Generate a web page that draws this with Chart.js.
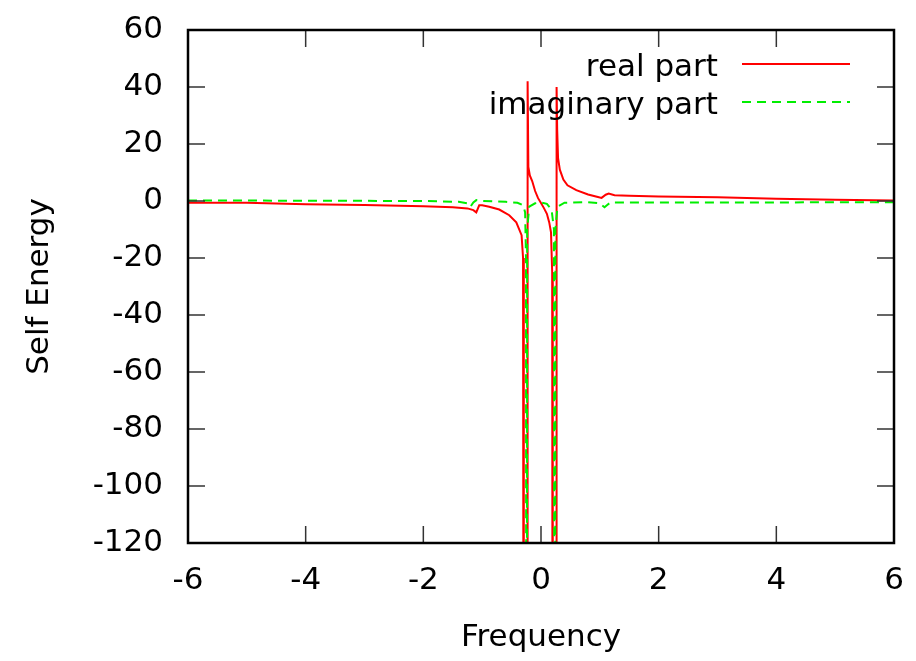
<!DOCTYPE html>
<html>
<head>
<meta charset="utf-8">
<script src="https://cdn.jsdelivr.net/npm/chart.js@4"></script>
<style>
  body { margin: 0; background: #fff; }
  canvas { display: block; }
</style>
</head>
<body>
<canvas id="myChart" width="916" height="661"></canvas>
<script>
// real part of the self energy (red, solid)
const realFreq = [-6, -5, -4, -3, -2, -1.5, -1.25, -1.15, -1.1, -1.05, -1.0, -0.88, -0.71, -0.54, -0.42,
    -0.33, -0.305, -0.295, -0.29, -0.235, -0.23, -0.225, -0.215, -0.19, -0.15, -0.1, -0.05, 0, 0.05, 0.1,
    0.14, 0.17, 0.19, 0.2, 0.26, 0.265, 0.275, 0.29, 0.32, 0.38, 0.45, 0.6, 0.8, 0.95, 1.03,
    1.1, 1.15, 1.25, 1.5, 2, 3, 4, 5, 6]
const realValues = [-0.6, -0.6, -1.1, -1.4, -1.8, -2.2, -2.6, -3.2, -4.0, -1.5, -1.5, -2, -3, -5, -7.5,
    -12, -20, -60, -300, -300, 10, 42, 12, 9, 7, 3.5, 1, -0.7, -2.5, -4.5,
    -7.5, -11, -25, -300, -300, 40, 25, 15, 11, 7.5, 5.5, 3.8, 2.3, 1.5, 1.1,
    2.2, 2.6, 2.0, 1.8, 1.6, 1.3, 0.8, 0.4, 0.2]

// imaginary part (green, dashed)
const imagFreq = [-6, -4, -2, -1.4, -1.25, -1.2, -1.15, -1.1, -1.0, -0.6, -0.4, -0.3, -0.27, -0.255, -0.245,
    -0.235, -0.2, -0.1, 0, 0.1, 0.18, 0.22, 0.235, 0.245, 0.28, 0.4, 0.8, 1.0, 1.08, 1.12,
    1.18, 1.3, 2, 4, 6]
const imagValues = [0.2, 0.1, 0, -0.3, -0.8, -2, -0.5, 0.3, 0, -0.3, -0.6, -1.5, -4, -20, -400,
    -10, -2, -0.8, -0.5, -1, -3, -10, -400, -10, -2, -0.6, -0.4, -0.8, -2.2, -1.5,
    -0.5, -0.5, -0.5, -0.5, -0.4]

const seriesLabels = ['real part', 'imaginary part']
const xTicks = [-6, -4, -2, 0, 2, 4, 6]
const yTicks = [-120, -100, -80, -60, -40, -20, 0, 20, 40, 60]

const FONT = {family: '"DejaVu Sans", sans-serif', size: 31}

function toPoints(xs, ys) {
    let pts = []
    for (let i = 0; i < xs.length; i++) {
        pts.push({x: xs[i], y: ys[i]})
    }
    return pts
}

// no automatic room for overhanging tick labels, the box is placed by layout padding
function fixBox(s, w, h) {
    if (w) s.width = w
    if (h) s.height = h
    s.paddingTop = 0
    s.paddingBottom = 0
    s.paddingLeft = 0
    s.paddingRight = 0
}

// gnuplot style box with inward ticks on all four sides
const frame = {
    id: 'frame',
    afterDatasetsDraw(chart) {
        const ctx = chart.ctx
        const a = chart.chartArea
        const xs = chart.scales.x
        const ys = chart.scales.y
        ctx.save()
        ctx.strokeStyle = '#333'
        ctx.lineWidth = 1.5
        ctx.beginPath()
        xTicks.forEach(v => {
            const px = xs.getPixelForValue(v)
            ctx.moveTo(px, a.bottom); ctx.lineTo(px, a.bottom - 17)
            ctx.moveTo(px, a.top); ctx.lineTo(px, a.top + 17)
        })
        yTicks.forEach(v => {
            const py = ys.getPixelForValue(v)
            ctx.moveTo(a.left, py); ctx.lineTo(a.left + 17, py)
            ctx.moveTo(a.right, py); ctx.lineTo(a.right - 17, py)
        })
        ctx.stroke()
        ctx.strokeStyle = '#000'
        ctx.lineWidth = 2.5
        ctx.strokeRect(a.left, a.top, a.right - a.left, a.bottom - a.top)
        ctx.restore()
    }
}

// key in the top right corner, text right aligned, sample line after it
const key = {
    id: 'key',
    afterDatasetsDraw(chart) {
        const ctx = chart.ctx
        ctx.save()
        ctx.font = FONT.size + 'px ' + FONT.family
        ctx.textAlign = 'right'
        ctx.textBaseline = 'alphabetic'
        chart.data.datasets.forEach((ds, i) => {
            const y = 64 + i * 38
            ctx.fillStyle = '#000'
            ctx.fillText(ds.label, 718, y + 12)
            ctx.strokeStyle = ds.borderColor
            ctx.lineWidth = ds.borderWidth
            ctx.setLineDash(ds.borderDash || [])
            ctx.beginPath()
            ctx.moveTo(742, y)
            ctx.lineTo(850, y)
            ctx.stroke()
        })
        ctx.restore()
    }
}

function drawChart() {
    const ctx = document.getElementById('myChart')

    const data = {
        datasets: [
            {
            label: seriesLabels[0],
            data: toPoints(realFreq, realValues),
            borderColor: '#ff0000',
            borderWidth: 2,
            pointRadius: 0,
            tension: 0,
            order: 1
        },
            {
            label: seriesLabels[1],
            data: toPoints(imagFreq, imagValues),
            borderColor: '#00ee00',
            borderWidth: 2,
            borderDash: [9, 6],
            pointRadius: 0,
            tension: 0,
            order: 0
        }]
    }

    const config = {
        type: 'line',
        data: data,
        options: {
            responsive: false,
            animation: false,
            devicePixelRatio: 1,
            layout: {padding: {top: 30, right: 22, left: 0, bottom: 0}},
            scales: {
                x: {
                    type: 'linear', min: -6, max: 6,
                    grid: {display: false, drawTicks: false},
                    border: {display: false},
                    afterFit: s => fixBox(s, 0, 118),
                    afterBuildTicks: s => { s.ticks = xTicks.map(v => ({value: v})) },
                    ticks: {color: '#000', font: FONT, padding: 19, maxRotation: 0},
                    title: {display: true, text: 'Frequency', color: '#000', font: FONT, padding: {top: 0, bottom: 4}}
                },
                y: {
                    type: 'linear', min: -120, max: 60,
                    grid: {display: false, drawTicks: false},
                    border: {display: false},
                    afterFit: s => fixBox(s, 188, 0),
                    afterBuildTicks: s => { s.ticks = yTicks.map(v => ({value: v})) },
                    ticks: {color: '#000', font: FONT, padding: 25},
                    title: {display: true, text: 'Self Energy', color: '#000', font: FONT, padding: {top: 21, bottom: 0}}
                }
            },
            plugins: {legend: {display: false}, tooltip: {enabled: false}}
        },
        plugins: [frame, key]
    }

    new Chart(ctx, config)
}

document.addEventListener('DOMContentLoaded', drawChart)
</script>
</body>
</html>
